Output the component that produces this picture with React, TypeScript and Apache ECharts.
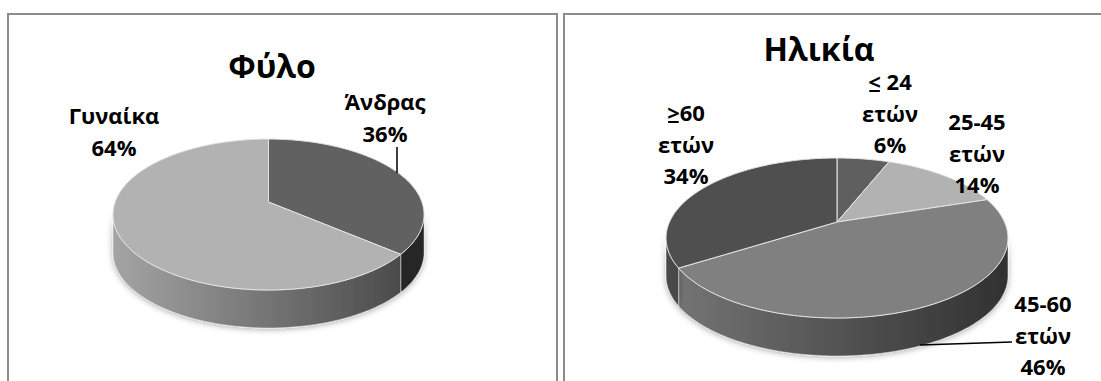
import React, { useEffect, useRef } from "react";
import * as echarts from "echarts";

// ---------- data ----------
const chartTitles = ["Φύλο", "Ηλικία"];
const genderCategories = ["Άνδρας", "Γυναίκα"];
const genderValues = [36, 64];
const ageCategories = ["< 24 ετών", "25-45 ετών", "45-60 ετών", ">60 ετών"];
const ageValues = [6, 14, 46, 34];

// ---------- style ----------
const genderColors = ["#616161", "#b2b2b2"];
const ageColors = ["#5f5f5f", "#b2b2b2", "#808080", "#4f4f4f"];
const FONT_FAMILY = '"Open Sans", "Noto Sans", "DejaVu Sans", sans-serif';
const LABEL_SIZE = 22;
const TITLE_SIZE = 32;
const LINE_H = 31.5;

// pie geometry (perspective ellipse)
const genderGeom = { cx: 268.5, ay: 202, A: 153.4, B: 73.4, k: 0.166, depth: 38 };
const ageGeom = { cx: 837, ay: 222, A: 167.5, B: 76.8, k: 0.2, depth: 38 };

// label layout: [centerX, firstLineCenterY]
const genderLabelPos = [
  [385, 101],
  [114, 115],
];
const ageLabelPos = [
  [890, 81],
  [977, 121],
  [1043, 303],
  [686, 112],
];
const genderLeaders: (number[][] | null)[] = [
  [
    [397, 147],
    [397, 173],
  ],
  null,
];
const ageLeaders: (number[][] | null)[] = [
  null,
  null,
  [
    [920, 345],
    [1012, 342],
  ],
  null,
];

function shade(hex: string, f: number) {
  const n = parseInt(hex.slice(1), 16);
  const r = Math.round(((n >> 16) & 255) * f);
  const g = Math.round(((n >> 8) & 255) * f);
  const b = Math.round((n & 255) * f);
  return `rgb(${r},${g},${b})`;
}

function measure(text: string) {
  const c = document.createElement("canvas").getContext("2d");
  if (!c) return text.length * LABEL_SIZE * 0.6;
  c.font = `bold ${LABEL_SIZE}px ${FONT_FAMILY}`;
  return c.measureText(text).width;
}

function labelLines(name: string, value: number, total: number) {
  const pct = Math.round((value / total) * 100) + "%";
  const idx = name.lastIndexOf(" ετών");
  if (idx >= 0) return [name.slice(0, idx), "ετών", pct];
  return [name, pct];
}

function makeRenderItem(
  geom: any,
  values: number[],
  categories: string[],
  colors: string[],
  labelPos: number[][],
  leaders: (number[][] | null)[]
) {
  const total = values.reduce((a, b) => a + b, 0);
  const { cx, ay, A, B, k, depth } = geom;
  const proj = (t: number, dy = 0) => {
    const u = Math.sin(t);
    const v = Math.cos(t);
    const d = 1 + k * v;
    return [cx + (A * u) / d, ay - (B * v) / d + dy];
  };
  const arc = (a: number, b: number, dy = 0) => {
    const pts: number[][] = [];
    const n = Math.max(2, Math.ceil((Math.abs(b - a) / Math.PI) * 180));
    for (let i = 0; i <= n; i++) pts.push(proj(a + ((b - a) * i) / n, dy));
    return pts;
  };
  const tR = Math.acos(-k);
  const tL = 2 * Math.PI - tR;
  const xMin = proj(tL)[0];
  const xMax = proj(tR)[0];

  return (params: any, api: any) => {
    const i = params.dataIndex;
    const v = api.value(0);
    let before = 0;
    for (let j = 0; j < i; j++) before += values[j];
    const t0 = (before / total) * 2 * Math.PI;
    const t1 = ((before + v) / total) * 2 * Math.PI;
    const color = colors[i];
    const children: any[] = [];

    // side wall
    const lo = Math.max(t0, tR);
    const hi = Math.min(t1, tL);
    if (hi > lo) {
      const pts = arc(lo, hi).concat(arc(hi, lo, depth));
      children.push({
        type: "polygon",
        z2: 1,
        shape: { points: pts },
        style: {
          fill: new echarts.graphic.LinearGradient(
            xMin,
            0,
            xMax,
            0,
            [
              { offset: 0, color: shade(color, 0.92) },
              { offset: 1, color: shade(color, 0.38) },
            ],
            true
          ),
          stroke: "rgba(255,255,255,0.55)",
          lineWidth: 0.8,
          shadowBlur: 6,
          shadowColor: "rgba(0,0,0,0.35)",
          shadowOffsetY: 1,
        },
      });
    }

    // top face
    const topPts = [[cx, ay]].concat(arc(t0, t1));
    children.push({
      type: "polygon",
      z2: 5,
      shape: { points: topPts },
      style: { fill: color, stroke: "#e4e4e4", lineWidth: 1 },
    });

    // labels
    const lines = labelLines(categories[i], v, total);
    const [lx, ly] = labelPos[i];
    const font = `bold ${LABEL_SIZE}px ${FONT_FAMILY}`;
    lines.forEach((txt, li) => {
      children.push({
        type: "text",
        z2: 10,
        style: {
          text: txt,
          x: lx,
          y: ly + li * LINE_H,
          font,
          fill: "#000",
          textAlign: "center",
          align: "center",
          textVerticalAlign: "middle",
          verticalAlign: "middle",
        },
      });
      if (li === 0 && (txt[0] === "<" || txt[0] === ">")) {
        const w = measure(txt);
        const cw = measure(txt[0]);
        const x0 = lx - w / 2;
        children.push({
          type: "line",
          z2: 10,
          shape: { x1: x0 + 1, y1: ly + 10, x2: x0 + cw - 1, y2: ly + 10 },
          style: { stroke: "#000", lineWidth: 2 },
        });
      }
    });
    const ld = leaders[i];
    if (ld) {
      children.push({
        type: "polyline",
        z2: 10,
        shape: { points: ld },
        style: { stroke: "#000", lineWidth: 1.5, fill: "none" },
      });
    }
    return { type: "group", children };
  };
}

export default function App() {
  const ref = useRef<HTMLDivElement>(null);
  useEffect(() => {
    if (!ref.current) return;
    const chart = echarts.init(ref.current, undefined, { renderer: "svg" });
    const titleFont = `bold ${TITLE_SIZE}px ${FONT_FAMILY}`;
    chart.setOption({
      animation: false,
      backgroundColor: "#ffffff",
      graphic: [
        {
          type: "rect",
          shape: { x: 8, y: 14, width: 549, height: 420 },
          style: { fill: "none", stroke: "#8c8c8c", lineWidth: 2 },
        },
        {
          type: "rect",
          shape: { x: 564, y: 14, width: 600, height: 420 },
          style: { fill: "none", stroke: "#8c8c8c", lineWidth: 2 },
        },
        {
          type: "text",
          x: 272,
          y: 65,
          style: {
            text: chartTitles[0],
            font: titleFont,
            fill: "#000",
            textAlign: "center",
            textVerticalAlign: "middle",
          },
        },
        {
          type: "text",
          x: 819,
          y: 48,
          style: {
            text: chartTitles[1],
            font: titleFont,
            fill: "#000",
            textAlign: "center",
            textVerticalAlign: "middle",
          },
        },
      ],
      series: [
        {
          type: "custom",
          name: chartTitles[0],
          coordinateSystem: "none",
          silent: true,
          data: genderValues.map((v, i) => ({ name: genderCategories[i], value: [v] })),
          renderItem: makeRenderItem(
            genderGeom,
            genderValues,
            genderCategories,
            genderColors,
            genderLabelPos,
            genderLeaders
          ),
        },
        {
          type: "custom",
          name: chartTitles[1],
          coordinateSystem: "none",
          silent: true,
          data: ageValues.map((v, i) => ({ name: ageCategories[i], value: [v] })),
          renderItem: makeRenderItem(
            ageGeom,
            ageValues,
            ageCategories,
            ageColors,
            ageLabelPos,
            ageLeaders
          ),
        },
      ],
    });
    return () => chart.dispose();
  }, []);
  return (
    <div
      ref={ref}
      style={{ position: "absolute", left: 0, top: 0, width: 1101, height: 381 }}
    />
  );
}
